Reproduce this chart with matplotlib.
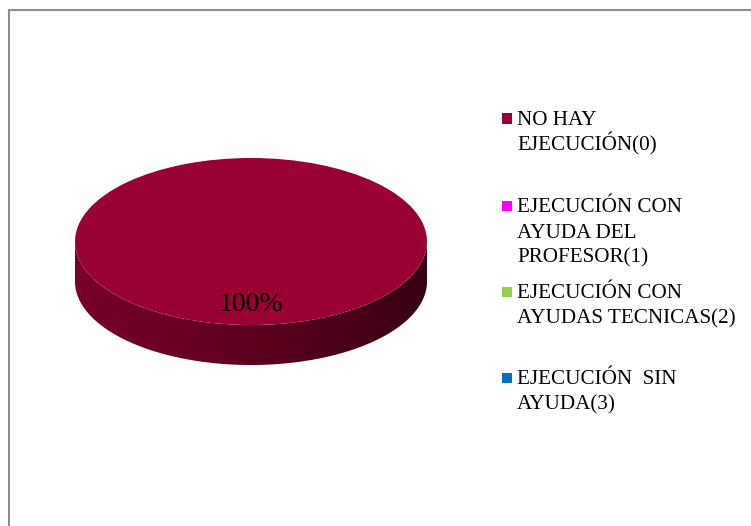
import numpy as np
import matplotlib
matplotlib.use('Agg')
import matplotlib.pyplot as plt
from matplotlib.lines import Line2D
from matplotlib.patches import Polygon, Rectangle
from matplotlib.colors import LinearSegmentedColormap, to_rgb

categories = ['NO HAY\nEJECUCIÓN(0)',
              'EJECUCIÓN CON\nAYUDA DEL\nPROFESOR(1)',
              'EJECUCIÓN CON\nAYUDAS TECNICAS(2)',
              'EJECUCIÓN  SIN\nAYUDA(3)']
values = [100, 0, 0, 0]
colors = ['#990033', '#FF00FF', '#92D050', '#0070C0']

W, H = 751, 526
SERIF = ['Liberation Serif', 'DejaVu Serif']

fig = plt.figure(figsize=(W / 100, H / 100), dpi=100)
fig.patch.set_facecolor('white')


def fx(px):
    return px / W


def fy(py):
    return 1 - py / H


# chart-area frame (top and left edges)
fig.add_artist(Line2D([fx(9), 1.0], [fy(10), fy(10)], color='#8c8c8c', lw=1.5))
fig.add_artist(Line2D([fx(9), fx(9)], [fy(10), 0.0], color='#8c8c8c', lw=1.5))

# 3-D looking pie: elliptical top face plus a shaded rim
cx, cy, rx, ry, depth = 251, 241.5, 176, 83.5, 40
d = depth / ry
ax = fig.add_axes([fx(cx - rx), fy(cy + ry + depth), 2 * rx / W, (2 * ry + depth) / H])

wedges, _, autotexts = ax.pie(
    values, colors=colors, startangle=90, counterclock=False, radius=1,
    center=(0, 0), labels=None,
    autopct=lambda p: f'{p:.0f}%' if p > 0 else '',
    pctdistance=0.75,
    wedgeprops=dict(linewidth=0, zorder=3),
    textprops=dict(fontsize=20, family=SERIF, color='black', zorder=5))

# rim of each wedge, visible on the front half only
for w, col in zip(wedges, colors):
    if w.theta2 - w.theta1 <= 0:
        continue
    t = np.linspace(w.theta1, w.theta2, 1441)
    front = np.sin(np.radians(t)) <= 1e-9
    idx = np.where(front)[0]
    if idx.size == 0:
        continue
    segs = np.split(idx, np.where(np.diff(idx) > 1)[0] + 1)
    base = np.array(to_rgb(col))
    cmap = LinearSegmentedColormap.from_list(
        'rim', [base * 0.78, base * 0.62, base * 0.36])
    for s in segs:
        tt = np.radians(t[s])
        xs, ys = np.cos(tt), np.sin(tt)
        verts = np.vstack([np.column_stack([xs, ys]),
                           np.column_stack([xs[::-1], ys[::-1] - d])])
        poly = Polygon(verts, closed=True, facecolor='none', edgecolor='none')
        ax.add_patch(poly)
        grad = np.linspace(0, 1, 512).reshape(1, -1)
        im = ax.imshow(grad, cmap=cmap, extent=[-1, 1, -1 - d, 0.05],
                       aspect='auto', zorder=2, interpolation='bilinear')
        im.set_clip_path(poly)

ax.set_aspect('auto')
ax.set_xlim(-1, 1)
ax.set_ylim(-1 - d, 1)
ax.axis('off')

# legend
baselines = [125, 212.5, 298.5, 384.5]
line_step = 25
for lab, col, yb in zip(categories, colors, baselines):
    fig.add_artist(Rectangle((fx(502), fy(yb - 1.5)), 10 / W, 10 / H,
                             facecolor=col, edgecolor='none',
                             transform=fig.transFigure))
    for i, line in enumerate(lab.split('\n')):
        fig.text(fx(517), fy(yb + i * line_step), line, fontsize=15.2,
                 family=SERIF, color='black', ha='left', va='baseline')

fig.savefig('out.png', dpi=100, facecolor='white')
